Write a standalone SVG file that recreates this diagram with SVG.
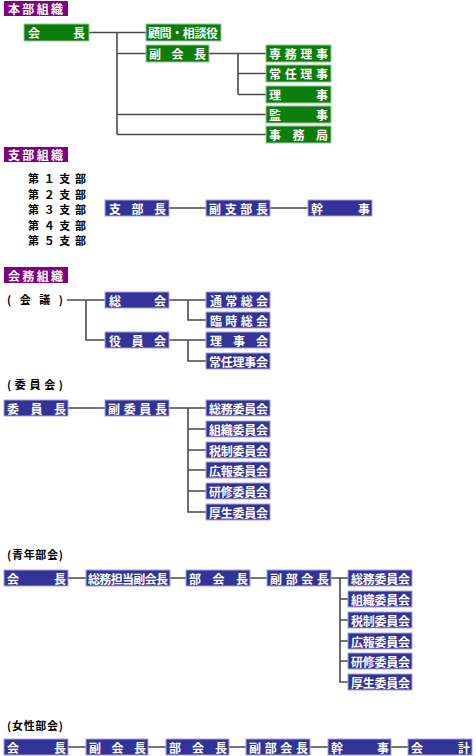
<svg xmlns="http://www.w3.org/2000/svg" width="476" height="756" viewBox="0 0 476 756">
<style>
.bg{fill:#ffffff}
.g rect{fill:#0a7d0a;stroke:#9cc79c;stroke-width:1}
.b rect{fill:#333399;stroke:#a5a5d8;stroke-width:1}
.p rect{fill:#800080}
.g text,.b text,.p text{fill:#ffffff;font-family:"Noto Sans CJK JP","Noto Sans CJK SC",sans-serif;font-weight:bold;font-size:12px;dominant-baseline:central}
.lbl{fill:#000000;font-family:"Noto Sans CJK JP","Noto Sans CJK SC",sans-serif;font-weight:bold;font-size:11px;dominant-baseline:central}
#connectors path{fill:none;stroke:#4a4a4a;stroke-width:1.6}
</style>
<rect class="bg" x="0" y="0" width="476" height="756"/>

<g id="connectors">
<path d="M89 32.5 H146 M117 32.5 V134.5 M117 53.5 H146 M117 114.5 H266 M117 134.5 H266 M209 53.5 H266 M238 53.5 V94.5 M238 73.5 H266 M238 94.5 H266"/>
<path d="M169 208 H206 M270 208 H308"/>
<path d="M67 300 H105 M86 300 V340 H105 M169 300 H206 M188 300 V320 H206 M169 340 H206 M188 340 V361 H206"/>
<path d="M68 408 H105 M169 408 H206 M188 408 V512 H206 M188 429 H206 M188 450 H206 M188 470 H206 M188 491 H206"/>
<path d="M68 578 H86 M170 578 H186 M250 578 H267 M331 578 H348 M340 578 V682 H348 M340 599 H348 M340 620 H348 M340 641 H348 M340 661 H348"/>
<path d="M68 747 H86 M148 747 H166 M229 747 H246 M310 747 H328 M391 747 H408"/>
</g>

<!-- 本部組織 -->
<g id="t_honbu" class="p"><rect x="4" y="1" width="64" height="15"/><text x="8" y="8.5" textLength="55" lengthAdjust="spacing">本部組織</text></g>
<g id="n_kaicho" class="g"><rect x="24" y="24" width="65" height="17"/><text x="28" y="32.5" textLength="57" lengthAdjust="spacing">会長</text></g>
<g id="n_komon" class="g"><rect x="146" y="24" width="75" height="17"/><text x="148" y="32.5" textLength="70" lengthAdjust="spacing">顧問・相談役</text></g>
<g id="n_fukukaicho" class="g"><rect x="146" y="45" width="63" height="17"/><text x="149" y="53.5" textLength="57" lengthAdjust="spacing">副会長</text></g>
<g id="n_senmu" class="g"><rect x="266" y="45" width="65" height="17"/><text x="269" y="53.5" textLength="59" lengthAdjust="spacing">専務理事</text></g>
<g id="n_jonin" class="g"><rect x="266" y="65" width="65" height="17"/><text x="269" y="73.5" textLength="59" lengthAdjust="spacing">常任理事</text></g>
<g id="n_riji" class="g"><rect x="266" y="86" width="65" height="17"/><text x="269" y="94.5" textLength="59" lengthAdjust="spacing">理事</text></g>
<g id="n_kanji" class="g"><rect x="266" y="106" width="65" height="17"/><text x="269" y="114.5" textLength="59" lengthAdjust="spacing">監事</text></g>
<g id="n_jimukyoku" class="g"><rect x="266" y="126" width="65" height="17"/><text x="269" y="134.5" textLength="59" lengthAdjust="spacing">事務局</text></g>

<!-- 支部組織 -->
<g id="t_shibu" class="p"><rect x="4" y="147" width="64" height="15"/><text x="8" y="154.5" textLength="55" lengthAdjust="spacing">支部組織</text></g>
<g id="l_shibu">
<text class="lbl" x="28" y="178" textLength="58" lengthAdjust="spacing">第１支部</text>
<text class="lbl" x="28" y="194" textLength="58" lengthAdjust="spacing">第２支部</text>
<text class="lbl" x="28" y="209" textLength="58" lengthAdjust="spacing">第３支部</text>
<text class="lbl" x="28" y="225" textLength="58" lengthAdjust="spacing">第４支部</text>
<text class="lbl" x="28" y="240" textLength="58" lengthAdjust="spacing">第５支部</text>
</g>
<g id="n_shibucho" class="b"><rect x="105" y="200" width="64" height="16"/><text x="109" y="208" textLength="57" lengthAdjust="spacing">支部長</text></g>
<g id="n_fukushibucho" class="b"><rect x="206" y="200" width="64" height="16"/><text x="209" y="208" textLength="59" lengthAdjust="spacing">副支部長</text></g>
<g id="n_kanji2" class="b"><rect x="308" y="200" width="64" height="16"/><text x="311" y="208" textLength="59" lengthAdjust="spacing">幹事</text></g>

<!-- 会務組織 -->
<g id="t_kaimu" class="p"><rect x="4" y="267" width="64" height="16"/><text x="8" y="275" textLength="55" lengthAdjust="spacing">会務組織</text></g>
<g id="l_kaigi"><text class="lbl" x="7" y="299" textLength="56" lengthAdjust="spacing">(会議)</text></g>
<g id="n_sokai" class="b"><rect x="105" y="292" width="64" height="16"/><text x="109" y="300" textLength="57" lengthAdjust="spacing">総会</text></g>
<g id="n_yakuinkai" class="b"><rect x="105" y="332" width="64" height="16"/><text x="109" y="340" textLength="57" lengthAdjust="spacing">役員会</text></g>
<g id="n_tsujo" class="b"><rect x="206" y="292" width="64" height="16"/><text x="210" y="300" textLength="58" lengthAdjust="spacing">通常総会</text></g>
<g id="n_rinji" class="b"><rect x="206" y="312" width="64" height="16"/><text x="210" y="320" textLength="58" lengthAdjust="spacing">臨時総会</text></g>
<g id="n_rijikai" class="b"><rect x="206" y="332" width="64" height="16"/><text x="210" y="340" textLength="58" lengthAdjust="spacing">理事会</text></g>
<g id="n_joninrijikai" class="b"><rect x="206" y="353" width="64" height="16"/><text x="209" y="361" textLength="59" lengthAdjust="spacing">常任理事会</text></g>

<!-- 委員会 -->
<g id="l_iinkai"><text class="lbl" x="7" y="384" textLength="56" lengthAdjust="spacing">(委員会)</text></g>
<g id="n_iincho" class="b"><rect x="4" y="400" width="64" height="16"/><text x="7" y="408" textLength="59" lengthAdjust="spacing">委員長</text></g>
<g id="n_fukuiincho" class="b"><rect x="105" y="400" width="64" height="16"/><text x="108" y="408" textLength="59" lengthAdjust="spacing">副委員長</text></g>
<g id="n_c_somu" class="b"><rect x="206" y="400" width="64" height="16"/><text x="209" y="408" textLength="59" lengthAdjust="spacing">総務委員会</text></g>
<g id="n_c_soshiki" class="b"><rect x="206" y="421" width="64" height="16"/><text x="209" y="429" textLength="59" lengthAdjust="spacing">組織委員会</text></g>
<g id="n_c_zeisei" class="b"><rect x="206" y="442" width="64" height="16"/><text x="209" y="450" textLength="59" lengthAdjust="spacing">税制委員会</text></g>
<g id="n_c_koho" class="b"><rect x="206" y="462" width="64" height="16"/><text x="209" y="470" textLength="59" lengthAdjust="spacing">広報委員会</text></g>
<g id="n_c_kenshu" class="b"><rect x="206" y="483" width="64" height="16"/><text x="209" y="491" textLength="59" lengthAdjust="spacing">研修委員会</text></g>
<g id="n_c_kosei" class="b"><rect x="206" y="504" width="64" height="16"/><text x="209" y="512" textLength="59" lengthAdjust="spacing">厚生委員会</text></g>

<!-- 青年部会 -->
<g id="l_seinen"><text class="lbl" x="7" y="554" textLength="56" lengthAdjust="spacing">(青年部会)</text></g>
<g id="n_y_kaicho" class="b"><rect x="4" y="570" width="64" height="16"/><text x="7" y="578" textLength="59" lengthAdjust="spacing">会長</text></g>
<g id="n_y_somutanto" class="b"><rect x="86" y="570" width="84" height="16"/><text x="88" y="578" textLength="80" lengthAdjust="spacing">総務担当副会長</text></g>
<g id="n_y_bukaicho" class="b"><rect x="186" y="570" width="64" height="16"/><text x="189" y="578" textLength="59" lengthAdjust="spacing">部会長</text></g>
<g id="n_y_fukubukaicho" class="b"><rect x="267" y="570" width="64" height="16"/><text x="270" y="578" textLength="59" lengthAdjust="spacing">副部会長</text></g>
<g id="n_y_somu" class="b"><rect x="348" y="570" width="64" height="16"/><text x="351" y="578" textLength="59" lengthAdjust="spacing">総務委員会</text></g>
<g id="n_y_soshiki" class="b"><rect x="348" y="591" width="64" height="16"/><text x="351" y="599" textLength="59" lengthAdjust="spacing">組織委員会</text></g>
<g id="n_y_zeisei" class="b"><rect x="348" y="612" width="64" height="16"/><text x="351" y="620" textLength="59" lengthAdjust="spacing">税制委員会</text></g>
<g id="n_y_koho" class="b"><rect x="348" y="633" width="64" height="16"/><text x="351" y="641" textLength="59" lengthAdjust="spacing">広報委員会</text></g>
<g id="n_y_kenshu" class="b"><rect x="348" y="653" width="64" height="16"/><text x="351" y="661" textLength="59" lengthAdjust="spacing">研修委員会</text></g>
<g id="n_y_kosei" class="b"><rect x="348" y="674" width="64" height="16"/><text x="351" y="682" textLength="59" lengthAdjust="spacing">厚生委員会</text></g>

<!-- 女性部会 -->
<g id="l_josei"><text class="lbl" x="7" y="725" textLength="56" lengthAdjust="spacing">(女性部会)</text></g>
<g id="n_w_kaicho" class="b"><rect x="4" y="739" width="64" height="16"/><text x="7" y="747" textLength="59" lengthAdjust="spacing">会長</text></g>
<g id="n_w_fukukaicho" class="b"><rect x="86" y="739" width="62" height="16"/><text x="89" y="747" textLength="57" lengthAdjust="spacing">副会長</text></g>
<g id="n_w_bukaicho" class="b"><rect x="166" y="739" width="63" height="16"/><text x="169" y="747" textLength="58" lengthAdjust="spacing">部会長</text></g>
<g id="n_w_fukubukaicho" class="b"><rect x="246" y="739" width="64" height="16"/><text x="249" y="747" textLength="59" lengthAdjust="spacing">副部会長</text></g>
<g id="n_w_kanji" class="b"><rect x="328" y="739" width="63" height="16"/><text x="331" y="747" textLength="58" lengthAdjust="spacing">幹事</text></g>
<g id="n_w_kaikei" class="b"><rect x="408" y="739" width="64" height="16"/><text x="411" y="747" textLength="59" lengthAdjust="spacing">会計</text></g>
</svg>
